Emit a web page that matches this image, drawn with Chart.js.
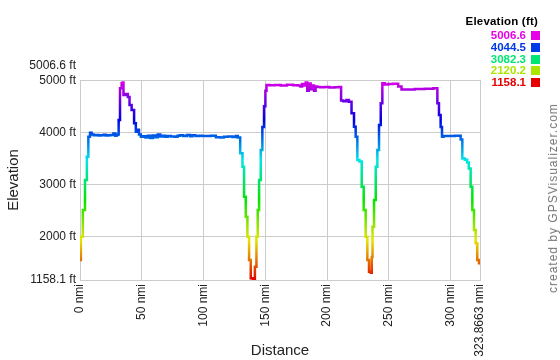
<!DOCTYPE html>
<html>
<head>
<meta charset="utf-8">
<script src="https://cdn.jsdelivr.net/npm/chart.js@4"></script>
<style>
  body { margin: 0; background: #fff; font-family: "Liberation Sans", Arial, sans-serif; }
  #wrap { position: relative; width: 560px; height: 360px; }
  #legend { position: absolute; top: 15px; right: 20px; text-align: right; font-size: 11.5px; font-weight: bold; }
  #legend .ttl { color: #000; margin-bottom: 3px; margin-right: 2px; letter-spacing: 0.2px; }
  #legend .row { height: 11.8px; line-height: 11.8px; }
  #legend .sw { display: inline-block; width: 9px; height: 9px; margin-left: 5px; vertical-align: -1px; }
  #credit { position: absolute; left: 553px; top: 198px; transform: translate(-50%, -50%) rotate(-90deg);
            white-space: nowrap; font-size: 12px; letter-spacing: 1px; color: #777; }
</style>
</head>
<body>
<div id="wrap">
  <canvas id="elevChart" width="560" height="360"></canvas>
  <div id="legend"></div>
  <div id="credit">created by GPSVisualizer.com</div>
</div>
<script>
// distance along the route (nmi)
const distances = [
  0, 1.4, 3.2, 4.9, 6.2, 7.3, 8.9, 10, 12, 14, 16, 18, 20, 22, 24, 26, 28, 29, 30, 31,
  31.6, 33.2, 34.2, 34.8, 35.6, 37.8, 39.7, 40.5, 43.1, 44.5, 45.9, 46.9, 48.6, 49.9,
  52, 54, 56, 58, 60, 62, 64, 66, 68, 70, 72, 75, 78, 80, 82, 85, 88, 90, 92, 95, 98,
  100, 104, 108, 112, 115, 118, 122, 125, 127, 128.5,
  130.9, 132.2, 133.5, 134.9, 136.2, 137.6, 138.9, 141.0, 142.2, 143.5, 144.3, 145.7,
  147.0, 148.3, 149.7, 150.5, 151.5,
  155, 160, 165, 170, 175, 178, 179, 180.5, 182, 183.5, 184.5, 186, 187.5, 189,
  190, 191.5, 193, 196, 200, 204, 208, 211,
  211.8, 214.5, 216.9, 218.5, 221.2, 222.5, 223.9, 225.2, 227.4, 228.8, 230.6, 232.0,
  233.3, 234.7, 236.1, 236.3, 237.4, 238.8, 240.1, 241.4, 242.8, 244.2, 245.4,
  248.2, 250.9, 256.3, 259.0, 261.6, 267.1, 275.1, 283.2, 288.7,
  290.0, 291.3, 292.7, 293.5, 295.4, 299.4, 307.5, 308.9, 310.2, 312.9, 314.0, 315.6,
  317.0, 318.3, 319.7, 321.0, 322.3, 323.8663
];
// elevation (ft)
const elevations = [
  1543, 1990, 2505, 3082, 3530, 3915, 3992, 3960, 3945, 3950, 3940, 3945, 3955, 3940, 3945, 3950, 3975, 3935, 3950, 3960,
  4236, 4846, 4942, 4960, 4717, 4736, 4680, 4525, 4429, 4173, 4012, 4050, 3960, 3915,
  3925, 3900, 3935, 3890, 3940, 3905, 3960, 3920, 3935, 3915, 3930, 3920, 3915, 3935, 3945, 3930, 3950, 3925, 3945, 3930, 3935,
  3930, 3930, 3935, 3905, 3900, 3915, 3920, 3910, 3930, 3900,
  3596, 3338, 2761, 2376, 1991, 1543, 1190, 1180, 1414, 1991, 2505, 3082,
  3659, 4100, 4500, 4800, 4910,
  4905, 4910, 4900, 4915, 4905, 4900, 4880, 4930, 4900, 4960, 4800, 4940, 4830, 4900,
  4800, 4880, 4870, 4866, 4870, 4860, 4866, 4870,
  4610, 4600, 4620, 4590, 4365, 4108, 3915, 3466, 3440, 2953, 2505, 1991,
  1543, 1318, 1300, 1600, 2184, 2697, 3338, 3659, 4140, 4558, 4942,
  4920, 4930, 4935, 4880, 4826, 4826, 4835, 4840, 4846,
  4558, 4333, 4100, 3915, 3930, 3930, 3935, 3860, 3498, 3470, 3420, 3306,
  2953, 2505, 2120, 1864, 1543, 1480
];

const xTicks = [0, 50, 100, 150, 200, 250, 300, 323.8663];
const yTicks = [1158.1, 2000, 3000, 4000, 5000, 5006.6];
const legendValues = [5006.6, 4044.5, 3082.3, 2120.2, 1158.1];

const minElev = 1158.1;
const maxElev = 5006.6;

// hue runs red (low) -> magenta (high)
function elevColor(v) {
  const t = (v - minElev) / (maxElev - minElev);
  return `hsl(${Math.round(300 * t)}, 100%, 45%)`;
}

/* ===== LEGEND ===== */
const legendEl = document.getElementById("legend");
legendEl.innerHTML = `<div class="ttl">Elevation (ft)</div>` +
  legendValues.map(v =>
    `<div class="row" style="color:${elevColor(v)}">${v.toFixed(1)}<span class="sw" style="background:${elevColor(v)}"></span></div>`
  ).join("");

/* ===== CHART ===== */
const fontFamily = '"Liberation Sans", Arial, sans-serif';

function lineGradient(context) {
  const { chart } = context;
  const area = chart.chartArea;
  if (!area) return "#0060e8";
  const g = chart.ctx.createLinearGradient(0, area.bottom, 0, area.top);
  for (let i = 0; i <= 20; i++) {
    const t = i / 20;
    g.addColorStop(t, elevColor(minElev + t * (maxElev - minElev)));
  }
  return g;
}

new Chart(document.getElementById("elevChart"), {
  type: "line",
  data: {
    datasets: [{
      data: distances.map((d, i) => ({ x: d, y: elevations[i] })),
      borderColor: lineGradient,
      borderWidth: 2.5,
      pointRadius: 0,
      stepped: "middle",
      fill: false
    }]
  },
  options: {
    responsive: false,
    animation: false,
    layout: { padding: { top: 80, right: 80, left: 0, bottom: 0 } },
    plugins: { legend: { display: false }, tooltip: { enabled: false } },
    scales: {
      x: {
        type: "linear",
        min: 0,
        max: 323.8663,
        afterBuildTicks: s => { s.ticks = xTicks.map(v => ({ value: v })); },
        afterFit: s => { s.height = 80; },
        ticks: {
          autoSkip: false,
          minRotation: 90,
          maxRotation: 90,
          padding: 4,
          color: "#222",
          font: { family: fontFamily, size: 12 },
          callback: v => v + " nmi"
        },
        grid: { color: "#ccc", drawTicks: false },
        border: { color: "#ccc" },
        title: {
          display: true,
          text: "Distance",
          color: "#222",
          font: { family: fontFamily, size: 15 },
          padding: { top: 0, bottom: 0 }
        }
      },
      y: {
        type: "linear",
        min: minElev,
        max: maxElev,
        afterBuildTicks: s => { s.ticks = yTicks.map(v => ({ value: v })); },
        afterFit: s => { s.width = 80; },
        ticks: {
          autoSkip: false,
          padding: 4,
          color: "#222",
          font: { family: fontFamily, size: 12 },
          callback: v => v === maxElev ? [v + " ft", "", ""] : v + " ft"
        },
        grid: { color: "#ccc", drawTicks: false },
        border: { color: "#ccc" },
        title: {
          display: true,
          text: "Elevation",
          color: "#222",
          font: { family: fontFamily, size: 15 },
          padding: { top: 5, bottom: 0 }
        }
      }
    }
  }
});
</script>
</body>
</html>
